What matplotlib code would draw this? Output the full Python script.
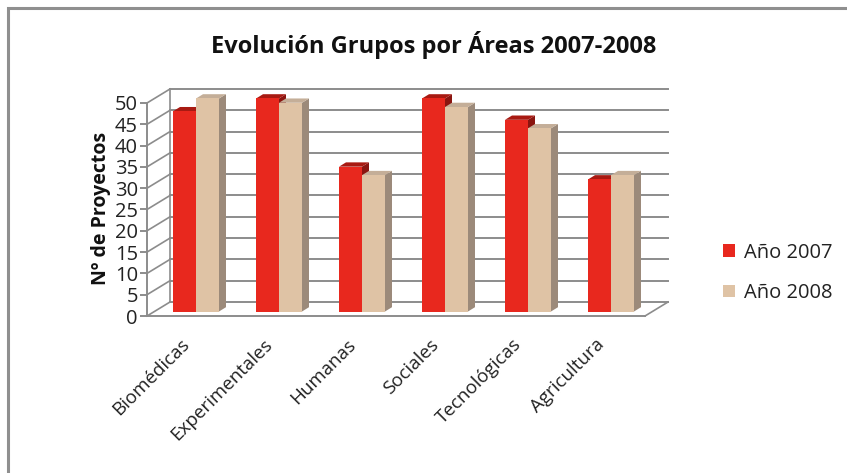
import matplotlib
matplotlib.use('Agg')
import matplotlib.pyplot as plt
from matplotlib.patches import Polygon, Rectangle, Patch
from matplotlib.lines import Line2D
import matplotlib.transforms as mtransforms
import numpy as np

plt.rcParams['font.family'] = ['Open Sans', 'DejaVu Sans']

# ---------------- data ----------------
categories = ['Biomédicas', 'Experimentales', 'Humanas', 'Sociales', 'Tecnológicas', 'Agricultura']
series_names = ['Año 2007', 'Año 2008']
values_2007 = [47, 50, 34, 50, 45, 31]
values_2008 = [50, 49, 32, 48, 43, 32]
y_ticks = [0, 5, 10, 15, 20, 25, 30, 35, 40, 45, 50]
title = 'Evolución Grupos por Áreas 2007-2008'
ylabel = 'Nº de Proyectos'

# ---------------- style ----------------
W, H, DPI = 847, 473, 100
GRID = '#8c8c8c'
FRONT = ['#e8281e', '#dfc3a5']
TOP = ['#a81a12', '#c4ae98']
SIDE = ['#8a1510', '#9c8a7a']
BACK = np.array([23.0, 14.0])      # depth of the back wall (px)
BAR_OFF = np.array([7.5, 4.5])     # bar front face offset from front plane (px)
BAR_DEPTH = np.array([7.0, 4.3])   # bar depth (px)
BW = 0.277

fig = plt.figure(figsize=(W / DPI, H / DPI), dpi=DPI)
ax = fig.add_axes([147 / W, 1 - 316 / H, 498 / W, 213 / H])
ax.set_xlim(-0.5, len(categories) - 0.5)
ax.set_ylim(0, 50)
ax.patch.set_visible(False)
for s in ['top', 'right']:
    ax.spines[s].set_visible(False)
for s in ['left', 'bottom']:
    ax.spines[s].set_color(GRID)
    ax.spines[s].set_linewidth(1.4)
ax.set_yticks(y_ticks)
ax.set_yticklabels([str(v) for v in y_ticks], fontsize=14.5, color='#222222')
ax.tick_params(axis='y', length=5, width=1.4, color=GRID, pad=1.5)
ax.set_xticks(range(len(categories)))
ax.set_xticklabels(categories, rotation=45, ha='right', va='top',
                   rotation_mode='anchor', fontsize=13.5, color='#222222')
ax.tick_params(axis='x', length=0, pad=16)
shift = mtransforms.ScaledTranslation(-0.08, 0.03, fig.dpi_scale_trans)
for lab in ax.get_xticklabels():
    lab.set_transform(lab.get_transform() + shift)

fig.canvas.draw()
T = ax.transData.transform


def px(x, y, off=(0, 0)):
    p = T((x, y))
    return p[0] + off[0], p[1] + off[1]


x0, x1 = ax.get_xlim()

# back wall gridlines and left wall diagonals
for v in y_ticks:
    a = px(x0, v, BACK)
    b = px(x1, v, BACK)
    fig.add_artist(Line2D([a[0], b[0]], [a[1], b[1]], transform=None,
                          color=GRID, lw=1.4, zorder=1))
    f = px(x0, v)
    fig.add_artist(Line2D([f[0], a[0]], [f[1], a[1]], transform=None,
                          color=GRID, lw=1.2, zorder=1))
# back-left vertical edge
a = px(x0, 0, BACK); b = px(x0, 50, BACK)
fig.add_artist(Line2D([a[0], b[0]], [a[1], b[1]], transform=None, color=GRID, lw=1.2, zorder=1))
# floor right diagonal
f = px(x1, 0); a = px(x1, 0, BACK)
fig.add_artist(Line2D([f[0], a[0]], [f[1], a[1]], transform=None, color=GRID, lw=1.2, zorder=1))

# bars
series = [values_2007, values_2008]
z = 3
for i in range(len(categories)):
    for k, vals in enumerate(series):
        xl = i - BW + k * BW
        xr = xl + BW
        v = vals[i]
        bl = px(xl, 0, BAR_OFF); br = px(xr, 0, BAR_OFF)
        tl = px(xl, v, BAR_OFF); tr = px(xr, v, BAR_OFF)
        d = BAR_DEPTH
        side = [br, (br[0] + d[0], br[1] + d[1]), (tr[0] + d[0], tr[1] + d[1]), tr]
        top = [tl, tr, (tr[0] + d[0], tr[1] + d[1]), (tl[0] + d[0], tl[1] + d[1])]
        fig.add_artist(Polygon(side, closed=True, transform=None, facecolor=SIDE[k],
                               edgecolor='none', zorder=z))
        fig.add_artist(Polygon(top, closed=True, transform=None, facecolor=TOP[k],
                               edgecolor='none', zorder=z))
        front = [bl, br, tr, tl]
        fig.add_artist(Polygon(front, closed=True, transform=None, facecolor=FRONT[k],
                               edgecolor='none', zorder=z + 0.5))
        z += 1

# titles
fig.text(434 / W, 1 - 45 / H, title, ha='center', va='center',
         fontsize=17, fontweight='bold', color='#111111')
fig.text(101 / W, 1 - 208 / H, ylabel, ha='center', va='center', rotation=90,
         fontsize=14, fontweight='bold', color='#111111')

# legend
handles = [Patch(facecolor=FRONT[0], edgecolor='none'),
           Patch(facecolor=FRONT[1], edgecolor='none')]
fig.legend(handles, series_names, loc='center left', bbox_to_anchor=(705 / W, 1 - 273 / H),
           frameon=False, fontsize=14.5, handlelength=0.6, handleheight=0.6,
           handletextpad=0.45, labelspacing=1.0, labelcolor='#222222')

# outer border (left and top edges visible)
fig.add_artist(Rectangle((8 / W, -0.05), 1.1, 1 - 8 / H + 0.05, transform=fig.transFigure,
                         facecolor='none', edgecolor='#8f8f8f', lw=2.2, zorder=0))

fig.savefig('out.png', dpi=DPI)
